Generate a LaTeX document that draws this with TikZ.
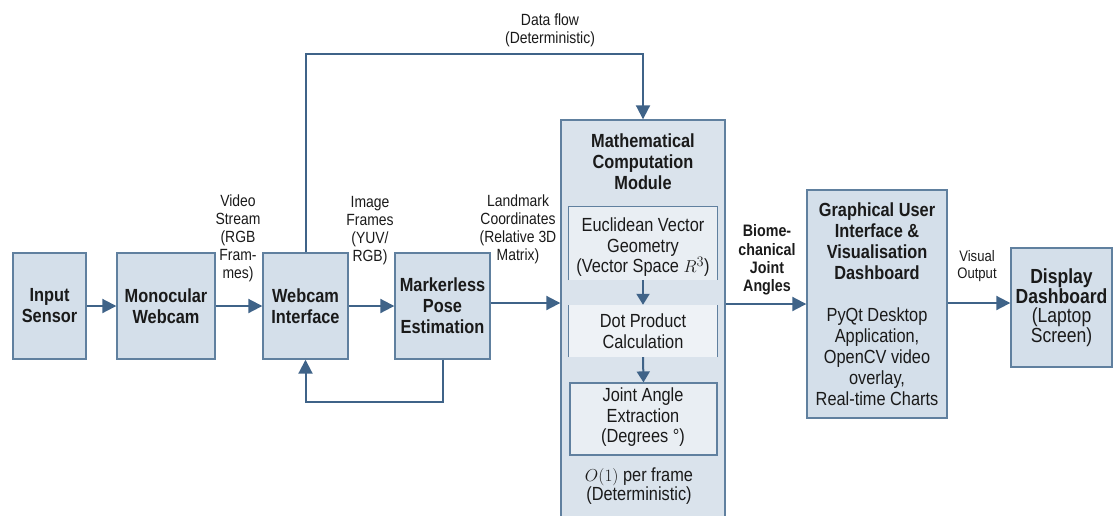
\documentclass[tikz,border=0pt]{standalone}
\usepackage{fontspec}
\setmainfont[FakeStretch=0.86]{Liberation Sans}
\usetikzlibrary{arrows.meta,calc}
\definecolor{boxfill}{HTML}{D4DFEA}
\definecolor{modfill}{HTML}{DAE3EC}
\definecolor{innfill}{HTML}{E9EEF3}
\definecolor{dotfill}{HTML}{EEF2F6}
\definecolor{boxline}{HTML}{60809F}
\definecolor{arrcol}{HTML}{3F6388}
\definecolor{txt}{HTML}{1A1A1A}
\tikzset{
  blk/.style={draw=boxline, line width=1.4pt, fill=boxfill, align=center, inner sep=0pt, text=txt,
    font=\fontsize{19}{21}\selectfont\bfseries},
  lbl/.style={align=center, text=txt, inner sep=0pt, font=\fontsize{16.2}{18}\selectfont},
  blbl/.style={align=center, text=txt, inner sep=0pt, font=\fontsize{16.6}{18.2}\selectfont\bfseries},
  itxt/.style={align=center, text=txt, inner sep=0pt, font=\fontsize{19}{20.5}\selectfont},
  arr/.style={draw=arrcol, line width=2pt, -{Triangle[length=14pt,width=14pt]}},
  iarr/.style={draw=arrcol, line width=2pt, -{Triangle[length=11pt,width=13pt]}},
  inbox/.style={fill=innfill, inner sep=0pt, draw=none},
  inline/.style={draw=boxline, line width=1.2pt}
}
\begin{document}
\begin{tikzpicture}[x=1pt,y=-1pt]
\useasboundingbox (0,0) rectangle (1113,515);
% main boxes
\node[blk, minimum width=73pt, minimum height=106pt] (inp) at (49.5,306) {Input\\Sensor};
\node[blk, minimum width=98pt, minimum height=106pt] (mono) at (166,306) {Monocular\\Webcam};
\node[blk, minimum width=85pt, minimum height=106pt] (web) at (305.5,306) {Webcam\\Interface};
\node[blk, minimum width=95pt, minimum height=106pt] (mark) at (442.5,306) {Markerless\\Pose\\Estimation};
\node[blk, fill=modfill, minimum width=164pt, minimum height=410pt] (math) at (643,325) {};
\node[blk, minimum width=140pt, minimum height=228pt] (gui) at (877,304)
  {Graphical User\\Interface \&\\Visualisation\\Dashboard\\[21pt]
   \mdseries PyQt Desktop\\\mdseries Application,\\\mdseries OpenCV video\\\mdseries overlay,\\\mdseries Real-time Charts};
\node[blk, minimum width=101pt, minimum height=119pt, font=\fontsize{20.4}{18.5}\selectfont\bfseries] (disp) at (1061.5,307.5)
  {Display\\Dashboard\\\mdseries(Laptop\\\mdseries Screen)};
% module contents
\node[blk, fill=none, draw=none] (mtitle) at (643,161.5) {Mathematical\\Computation\\Module};
\node[inbox, minimum width=148pt, minimum height=73pt] (eu) at (643,243.5) {};
\draw[inline] (eu.south west) -- (eu.north west) -- (eu.north east) -- (eu.south east);
\node[inbox, fill=dotfill, minimum width=148pt, minimum height=52pt] (dot) at (643,331) {};
\draw[inline] (dot.south west) -- (dot.north west);
\draw[inline] (dot.south east) -- (dot.north east);
\node[inbox, inline, minimum width=147pt, minimum height=72pt] (ja) at (643.5,419) {};
\node[itxt] (eut) at (643,247.5) {Euclidean Vector\\Geometry\\(Vector Space $R^3$)};
\node[itxt] (dott) at (643,331) {Dot Product\\Calculation};
\node[itxt] (jat) at (643,417.5) {Joint Angle\\Extraction\\(Degrees °)};
\node[itxt, font=\fontsize{19}{19}\selectfont] (cplx) at (639,486) {$O(1)$ per frame\\(Deterministic)};
\draw[iarr] (eu.south) -- (dot.north);
\draw[iarr] (dot.south) -- (ja.north);
% connectors
\coordinate (top) at (0,54);
\coordinate (fb) at (0,402);
\draw[arr] (inp.east) -- (mono.west);
\draw[arr] (mono.east) -- (web.west);
\draw[arr] (web.east) -- (mark.west);
\draw[arr] (mark.east |- 0,303) -- (math.west |- 0,303);
\draw[arr] (math.east |- gui.west) -- (gui.west);
\draw[arr] (gui.east |- 0,303) -- (disp.west |- 0,303);
\draw[arr] (web.north) -- (web.north |- top) -| (math.north);
\draw[arr] (mark.south) -- (mark.south |- fb) -| (web.south);
% labels
\node[lbl] (l1) at (238,238) {Video\\Stream\\(RGB\\Fram-\\mes)};
\node[lbl] (l2) at (370,230.5) {Image\\Frames\\(YUV/\\RGB)};
\node[lbl] (l3) at (518,229) {Landmark\\Coordinates\\(Relative 3D\\Matrix)};
\node[blbl] (l4) at (767,260) {Biome-\\chanical\\Joint\\Angles};
\node[lbl, font=\fontsize{15.2}{17}\selectfont] (l5) at (977,266.5) {Visual\\Output};
\node[lbl] (l6) at (550,30) {Data flow\\(Deterministic)};
\end{tikzpicture}
\end{document}
